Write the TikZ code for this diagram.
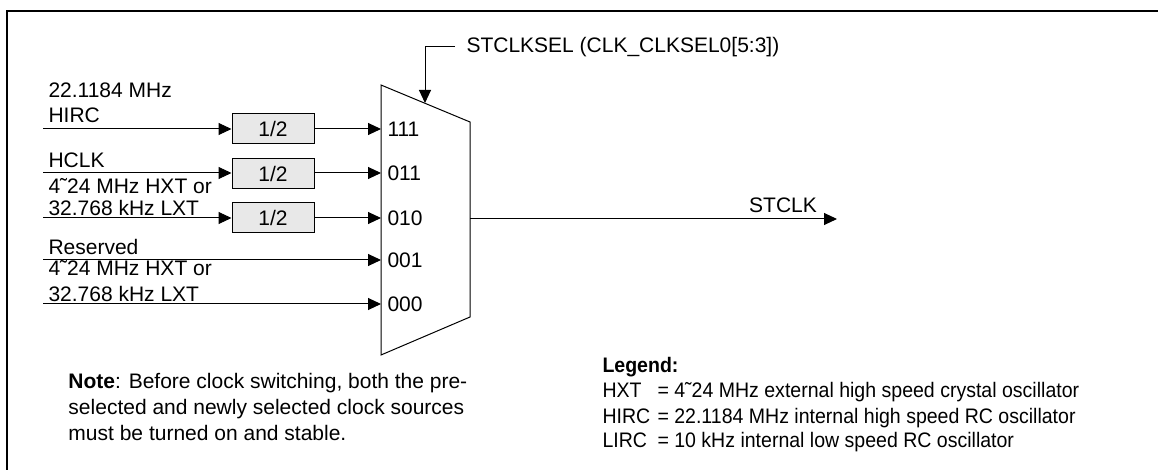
\documentclass[tikz,border=0pt]{standalone}
\usepackage{fontspec}
\setmainfont{Liberation Sans}
\newfontfamily\legendfont[FakeStretch=0.93]{Liberation Sans}
\usetikzlibrary{arrows.meta}
\tikzset{
  divbox/.style={draw, fill=black!9, minimum width=41pt, minimum height=15pt},
  lbl/.style={anchor=base west, inner sep=0pt},
}
\begin{document}
\begin{tikzpicture}[x=.5pt, y=-.5pt, line width=.5pt,
  >={Triangle[length=6.5pt,width=6pt]},
  every node/.style={font=\fontsize{10.5}{13.2}\selectfont}]
\useasboundingbox (0,0) rectangle (1158,470);
\draw[line width=1pt] (7,470) -- (7,11) -- (1158,11);
\draw (381,85) coordinate (mtl) -- (470,122) coordinate (mtr) -- (470,317) coordinate (mbr)
  -- (381,355) coordinate (mbl) -- cycle;
\foreach \y/\n in {129/111,173/011,218/010,260/001,304/000}{
    \coordinate (p\n) at (381,\y);
    \coordinate (s\n) at (43,\y);
    \node[anchor=west, inner sep=0pt] (l\n) at (387,\y){\n};
}
\foreach \y/\n in {129/111,174/011,218/010}{
    \node[divbox] (d\n) at (273,\y){1/2};
    \draw[->] (s\n) -- (s\n -| d\n.west);
    \draw[->] (d\n.east |- p\n) -- (p\n);
}
\foreach \n in {001,000}{
    \draw[->] (s\n) -- (p\n);
}
\foreach \y/\t in {98/22.1184 MHz,123/HIRC,168/HCLK,194/4˜24 MHz HXT or,216/32.768 kHz LXT,
    255/Reserved,276/4˜24 MHz HXT or,302/32.768 kHz LXT}{
    \node[lbl] at (48,\y){\t};
}
\node[anchor=west, inner sep=0pt] (sel) at (466,47){STCLKSEL (CLK\_CLKSEL0[5:3])};
\coordinate (msel) at (425,103);
\draw[->] ([xshift=-5.5pt]sel.west) -| (msel);
\coordinate (mout) at (470,219);
\coordinate (oend) at (837,219);
\draw[->] (mout) -- (oend);
\node[inner sep=0pt] (stclk) at (783,205){STCLK};
\node[lbl, align=left] (note) at (68,441){\textbf{Note}: Before clock switching, both the pre-\\
  selected and newly selected clock sources\\must be turned on and stable.};
\begin{scope}[every node/.style={font=\legendfont\fontsize{10.5}{12.5}\selectfont}]
\node[lbl] (legend) at (602,373){\textbf{Legend:}};
\foreach \y/\k/\v in {398/HXT/4˜24 MHz external high speed crystal oscillator,
    423/HIRC/22.1184 MHz internal high speed RC oscillator,
    448/LIRC/10 kHz internal low speed RC oscillator}{
    \node[lbl] (k\k) at (602,\y){\k};
    \node[lbl] (v\k) at (657,\y){= \v};
}
\end{scope}
\end{tikzpicture}
\end{document}
